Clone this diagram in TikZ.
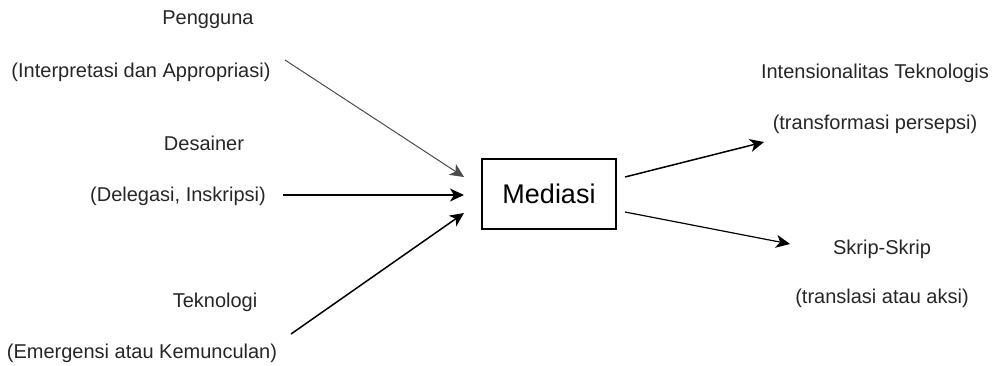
\documentclass[tikz,border=0pt]{standalone}
\usepackage{fontspec}
\setmainfont{Liberation Sans}
\usetikzlibrary{arrows.meta,positioning}

\begin{document}
\begin{tikzpicture}[x=1pt,y=-1pt,
   label/.style={font=\fontsize{20}{24}\selectfont,text=black!85,inner sep=0pt},
   panah/.style={-{Stealth[length=14pt,width=13pt,inset=4pt]},line width=1.5pt}]
   \useasboundingbox (0,0) rectangle (1008,365);
   % kiri
   \node[label] (pengguna)   at (208,20)  {Pengguna};
   \node[label] (interpretasi) at (141,72) {(Interpretasi dan Appropriasi)};
   \node[label] (desainer)   at (204,143) {Desainer};
   \node[label] (delegasi)   at (178,196) {(Delegasi, Inskripsi)};
   \node[label] (teknologi)  at (215,302) {Teknologi};
   \node[label] (emergensi)  at (142,353) {(Emergensi atau Kemunculan)};
   % tengah
   \node[draw,line width=1.5pt,minimum width=134pt,minimum height=70pt,
         font=\fontsize{27}{32}\selectfont] (mediasi) at (549,194) {Mediasi};
   % kanan
   \node[label] (intensionalitas) at (875,73)  {Intensionalitas Teknologis};
   \node[label] (transformasi)    at (875,124) {(transformasi persepsi)};
   \node[label] (skrip)           at (882,249) {Skrip-Skrip};
   \node[label] (translasi)       at (882,298) {(translasi atau aksi)};
   % ujung panah
   \coordinate (p_0) at (285,60);  \coordinate (q_0) at (464,177);
   \coordinate (p_1) at (283,195); \coordinate (q_1) at (464,195);
   \coordinate (p_2) at (291,334); \coordinate (q_2) at (464,213);
   \coordinate (p_3) at (625,177); \coordinate (q_3) at (764,142);
   \coordinate (p_4) at (625,212); \coordinate (q_4) at (790,244);
   \draw[panah,line width=1pt,black!70] (p_0) -- (q_0);
   \draw[panah] (p_1) -- (q_1);
   \draw[panah] (p_2) -- (q_2);
   \draw[panah] (p_3) -- (q_3);
   \draw[panah,line width=1.2pt] (p_4) -- (q_4);
\end{tikzpicture}
\end{document}
